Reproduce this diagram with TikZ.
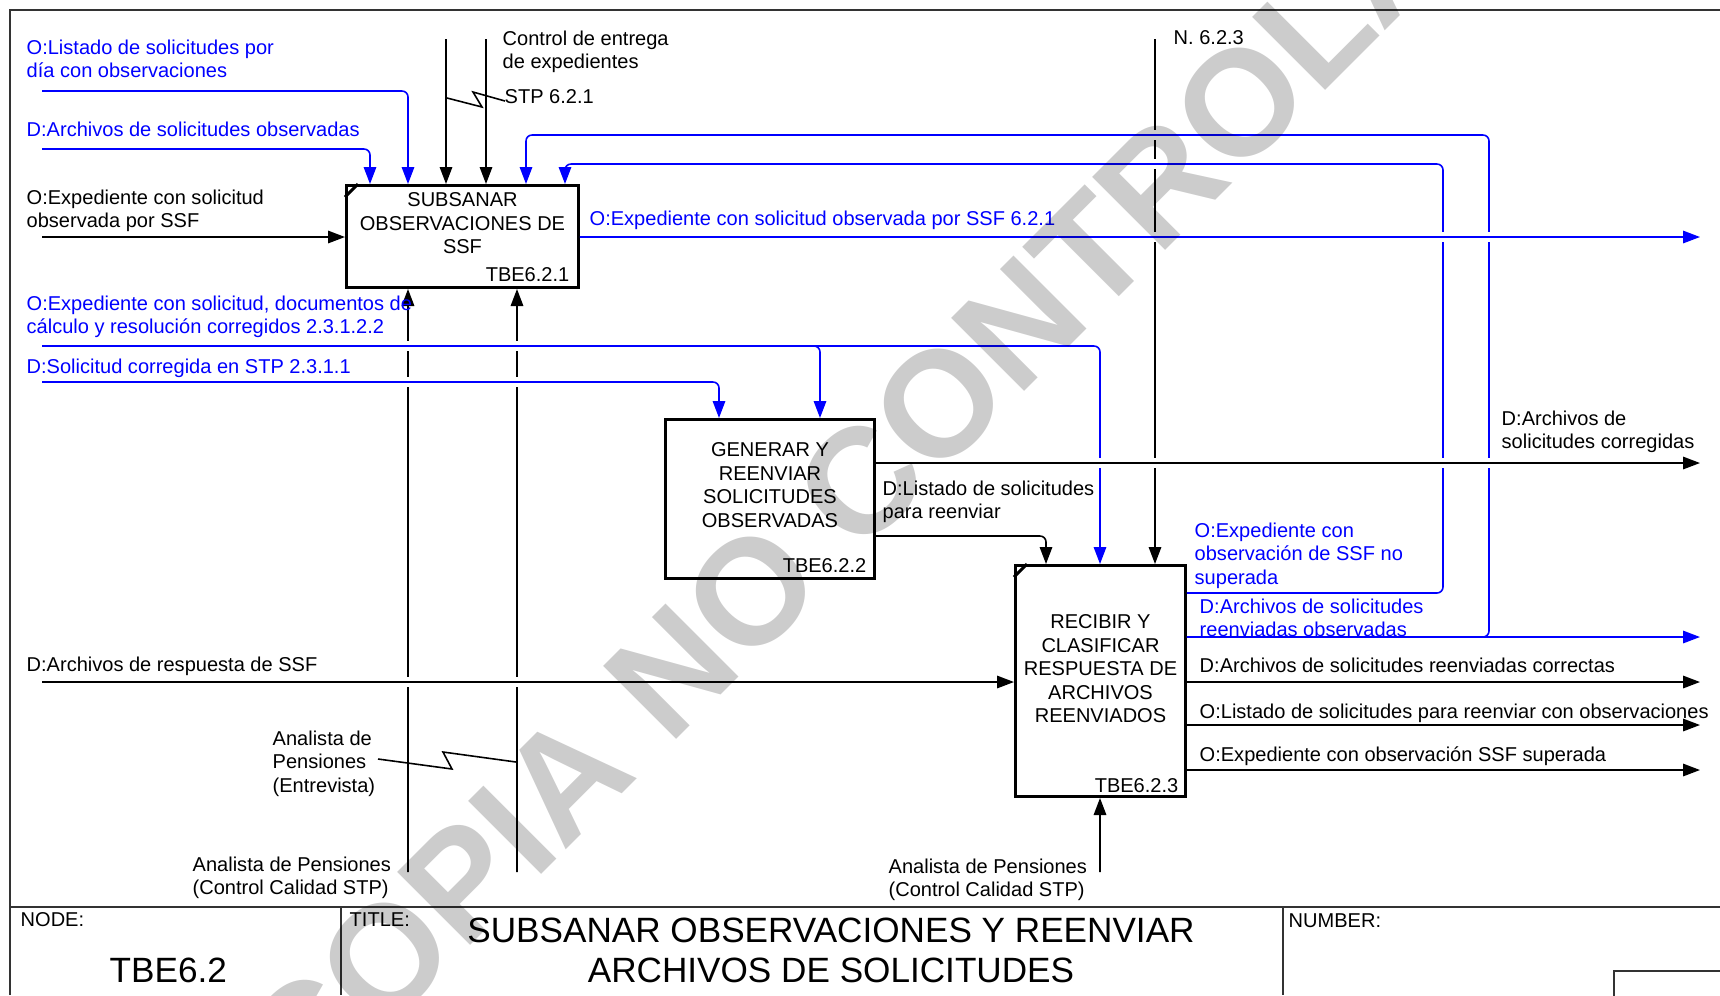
\documentclass[tikz,border=0pt]{standalone}
\usepackage{fontspec}
\setmainfont{Liberation Sans}
\usetikzlibrary{positioning,arrows.meta}

\tikzset{
  every node/.style={font=\fontsize{5.7}{6.7}\selectfont, inner sep=0pt},
  lbl/.style={anchor=north west, align=left},
  func/.style={draw, line width=0.85pt, anchor=north west},
  boxtxt/.style={align=center},
  wire/.style={line width=0.45pt},
  flow/.style={wire, rounded corners=0.6mm, -{Triangle[length=1.7mm,width=1.25mm]}},
  bflow/.style={flow, blue},
  frame/.style={line width=0.6pt, black!80},
  big/.style={font=\fontsize{10}{11.4}\selectfont},
  wmark/.style={font=\fontsize{42.7}{42.7}\selectfont\bfseries, text=black, text opacity=0.2},
}

\begin{document}
\begin{tikzpicture}
    \useasboundingbox (0,0) rectangle (17.2,-9.95);

    \draw[frame] (0.10,-9.95) -- (0.10,-0.10) -- (17.2,-0.10);
    \draw[frame] (0.10,-9.07) -- (17.2,-9.07);
    \draw[frame] (3.41,-9.07) -- (3.41,-9.95);
    \draw[frame] (12.83,-9.07) -- (12.83,-9.95);
    \draw[frame] (16.14,-9.71) rectangle (17.4,-10.1);

    \node[func, minimum width=23.2mm, minimum height=10.2mm] (A1) at (3.45,-1.84) {};
    \node[func, minimum width=20.9mm, minimum height=15.9mm] (A2) at (6.64,-4.18) {};
    \node[func, minimum width=17.0mm, minimum height=23.1mm] (A3) at (10.14,-5.64) {};
    \draw[line width=0.85pt] ([yshift=-1.3mm]A1.north west) -- ([xshift=1.3mm]A1.north west);
    \draw[line width=0.85pt] ([yshift=-1.3mm]A3.north west) -- ([xshift=1.3mm]A3.north west);

    \node[boxtxt, below=0.8mm of A1.north] (A1t) {SUBSANAR\\OBSERVACIONES DE\\SSF};
    \node[boxtxt, below=2.4mm of A2.north] (A2t) {GENERAR Y\\REENVIAR\\SOLICITUDES\\OBSERVADAS};
    \node[boxtxt, below=5.0mm of A3.north] (A3t) {RECIBIR Y\\CLASIFICAR\\RESPUESTA DE\\ARCHIVOS\\REENVIADOS};
    \node[above left=0.7mm and 1.0mm of A1.south east] (A1n) {TBE6.2.1};
    \node[above left=0.7mm and 0.9mm of A2.south east] (A2n) {TBE6.2.2};
    \node[above left=0.5mm and 0.8mm of A3.south east] (A3n) {TBE6.2.3};

    \coordinate (c1) at (0.42,-0.91);
    \coordinate (c2) at (0.42,-1.49);
    \coordinate (i1) at (0.42,-2.37);
    \coordinate (c3) at (0.42,-3.46);
    \coordinate (c4) at (0.42,-3.82);
    \coordinate (i3) at (0.42,-6.82);
    \coordinate (k1) at (4.46,-0.39);
    \coordinate (k2) at (4.86,-0.39);
    \coordinate (k3) at (11.55,-0.39);
    \coordinate (m1) at (4.08,-8.72);
    \coordinate (m2) at (5.17,-8.72);
    \coordinate (m3) at (11.00,-8.72);
    \coordinate (o1) at (17.0,-2.37);
    \coordinate (o2) at (17.0,-4.63);
    \coordinate (o3a) at (17.0,-6.37);
    \coordinate (o3b) at (17.0,-6.82);
    \coordinate (o3c) at (17.0,-7.25);
    \coordinate (o3d) at (17.0,-7.70);
    \coordinate (lA) at (14.89,-1.35);
    \coordinate (lB) at (14.43,-1.64);

    \draw[bflow] (c1) -| ([xshift=6.3mm]A1.north west);
    \draw[bflow] (c2) -| ([xshift=2.5mm]A1.north west);
    \draw[flow] (i1) -- ([yshift=-5.3mm]A1.north west);
    \draw[flow] (k1) -- ([xshift=10.1mm]A1.north west);
    \draw[flow] (k2) -- ([xshift=14.1mm]A1.north west);
    \draw[flow] (m1) -- ([xshift=6.3mm]A1.south west);
    \draw[flow] (m2) -- ([xshift=17.2mm]A1.south west);
    \draw[bflow] ([yshift=-5.3mm]A1.north east) -- (o1);

    \draw[bflow] (c3) -| ([xshift=8.6mm]A3.north west);
    \draw[bflow] (c3) -| ([xshift=15.6mm]A2.north west);
    \draw[bflow] (c4) -| ([xshift=5.5mm]A2.north west);
    \draw[flow] ([yshift=-4.5mm]A2.north east) -- (o2);
    \draw[flow] ([yshift=-11.8mm]A2.north east) -| ([xshift=3.2mm]A3.north west);

    \draw[flow] (i3) -- ([yshift=-11.8mm]A3.north west);
    \draw[flow] (k3) -- ([xshift=14.1mm]A3.north west);
    \draw[flow] (m3) -- ([xshift=8.6mm]A3.south west);
    \draw[bflow] ([yshift=-2.9mm]A3.north east) -| (lB) -| ([xshift=22.0mm]A1.north west);
    \draw[bflow] ([yshift=-7.3mm]A3.north east) -| (lA) -| ([xshift=18.1mm]A1.north west);
    \draw[bflow] ([yshift=-7.3mm]A3.north east) -- (o3a);
    \draw[flow] ([yshift=-11.8mm]A3.north east) -- (o3b);
    \draw[flow] ([yshift=-16.1mm]A3.north east) -- (o3c);
    \draw[flow] ([yshift=-20.6mm]A3.north east) -- (o3d);

    \foreach \x/\y/\c in {11.55/-1.35/blue, 11.55/-1.64/blue, 11.55/-2.37/blue, 11.55/-4.63/black,
        4.08/-3.46/blue, 4.08/-3.82/blue, 4.08/-6.82/black, 5.17/-3.46/blue, 5.17/-3.82/blue,
        5.17/-6.82/black, 11.00/-4.63/black, 14.89/-2.37/blue, 14.89/-4.63/black,
        14.43/-2.37/blue, 14.43/-4.63/black} {
      \fill[white] (\x-0.03,\y-0.05) rectangle (\x+0.03,\y+0.05);
      \draw[wire,\c] (\x-0.04,\y) -- (\x+0.04,\y);
    }

    \draw[wire] (4.47,-0.98) -- (4.82,-1.07) -- (4.73,-0.92) -- (5.05,-1.01);
    \draw[wire] (3.78,-7.59) -- (4.52,-7.69) -- (4.43,-7.52) -- (5.16,-7.62);

    \node[lbl, blue] (t1) at (0.26,-0.39) {O:Listado de solicitudes por\\día con observaciones};
    \node[lbl, blue] (t2) at (0.26,-1.21) {D:Archivos de solicitudes observadas};
    \node[lbl] (t3) at (0.26,-1.89) {O:Expediente con solicitud\\observada por SSF};
    \node[lbl] (t4) at (5.02,-0.30) {Control de entrega\\de expedientes};
    \node[lbl] (t5) at (5.04,-0.89) {STP 6.2.1};
    \node[lbl] (t6) at (11.73,-0.30) {N. 6.2.3};
    \node[lbl, blue] (t7) at (5.89,-2.10) {O:Expediente con solicitud observada por SSF 6.2.1};
    \node[lbl, blue] (t8) at (0.26,-2.95) {O:Expediente con solicitud, documentos de\\cálculo y resolución corregidos 2.3.1.2.2};
    \node[lbl, blue] (t9) at (0.26,-3.58) {D:Solicitud corregida en STP 2.3.1.1};
    \node[lbl] (t10) at (8.82,-4.80) {D:Listado de solicitudes\\para reenviar};
    \node[lbl] (t11) at (15.01,-4.10) {D:Archivos de\\solicitudes corregidas};
    \node[lbl, blue] (t12) at (11.94,-5.22) {O:Expediente con\\observación de SSF no\\superada};
    \node[lbl, blue] (t13) at (11.99,-5.98) {D:Archivos de solicitudes\\reenviadas observadas};
    \node[lbl] (t14) at (11.99,-6.57) {D:Archivos de solicitudes reenviadas correctas};
    \node[lbl] (t15) at (11.99,-7.03) {O:Listado de solicitudes para reenviar con observaciones};
    \node[lbl] (t16) at (11.99,-7.46) {O:Expediente con observación SSF superada};
    \node[lbl] (t17) at (0.26,-6.56) {D:Archivos de respuesta de SSF};
    \node[lbl] (t18) at (2.72,-7.30) {Analista de\\Pensiones\\(Entrevista)};
    \node[lbl] (t19) at (1.92,-8.56) {Analista de Pensiones\\(Control Calidad STP)};
    \node[lbl] (t20) at (8.88,-8.58) {Analista de Pensiones\\(Control Calidad STP)};

    \node[lbl] (nodeL) at (0.20,-9.12) {NODE:};
    \node[lbl] (titleL) at (3.49,-9.12) {TITLE:};
    \node[lbl] (numL) at (12.88,-9.13) {NUMBER:};
    \node[big, anchor=west] (nodeN) at (1.09,-9.70) {TBE6.2};
    \node[big, align=center, anchor=north] (title) at (8.31,-9.17) {SUBSANAR OBSERVACIONES Y REENVIAR\\ARCHIVOS DE SOLICITUDES};

    \node[wmark, rotate=45] (wm) at (9.22,-4.21) {COPIA NO CONTROLADA};
\end{tikzpicture}
\end{document}
